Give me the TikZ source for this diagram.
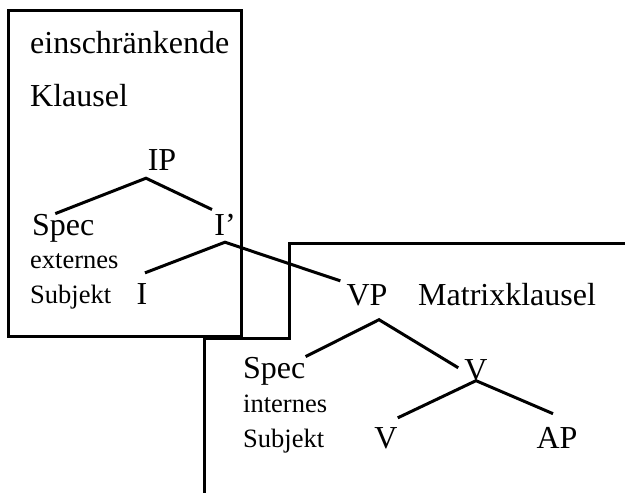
\documentclass[tikz,border=0pt]{standalone}
\usepackage{fontspec}
\setmainfont{Liberation Serif}
\usetikzlibrary{calc}
\tikzset{
  big/.style={inner sep=0pt, font=\fontsize{32}{38}\selectfont},
  small/.style={inner sep=0pt, font=\fontsize{26.5}{32}\selectfont},
  branch/.style={line width=3pt},
  frame/.style={line width=3pt}
}
\begin{document}
\begin{tikzpicture}[x=1pt,y=-1pt]
\useasboundingbox (0,0) rectangle (625,493);
% frames
\draw[frame] (8,10) rectangle (241,336);
\draw[frame] (625,243) -- (289,243) -- (289,338) -- (204,338) -- (204,493);
% texts
\node[big, anchor=base west] (t1) at (30,53) {einschränkende};
\node[big, anchor=base west] (t2) at (30,106) {Klausel};
\node[big, anchor=base] (IP) at (162,170) {IP};
\node[big, anchor=base west] (SpecA) at (32,235) {Spec};
\node[big, anchor=base] (Ibar) at (225,235) {I’};
\node[small, anchor=base west] (ext) at (30,268) {externes};
\node[small, anchor=base west] (subjA) at (30,303) {Subjekt};
\node[big, anchor=base] (I) at (142,304) {I};
\node[big, anchor=base] (VP) at (367,305) {VP};
\node[big, anchor=base west] (matrix) at (418,305) {Matrixklausel};
\node[big, anchor=base west] (SpecB) at (243,378) {Spec};
\node[small, anchor=base west] (int) at (243,412) {internes};
\node[small, anchor=base west] (subjB) at (243,447) {Subjekt};
\node[big, anchor=base] (Vbar) at (476,380) {V};
\node[big, anchor=base] (V) at (386,448) {V};
\node[big, anchor=base] (AP) at (557,448) {AP};
% branches
\draw[branch] ($(SpecA.north)+(-8,0)$) -- ($(IP.south)+(-16,8)$) -- ($(Ibar.north)+(-13,-4)$);
\draw[branch] ($(I.north)+(3,-10)$) -- ($(Ibar.south)+(0,7)$) -- ($(VP.north west)+(-6,-3)$);
\draw[branch] (SpecB.north east) -- ($(VP.south)+(12,14)$) -- ($(Vbar.west)+(-6,-2)$);
\draw[branch] ($(V.north east)+(0,-9)$) -- (Vbar.south) -- ($(AP.north)+(-4,-13)$);
\end{tikzpicture}
\end{document}
